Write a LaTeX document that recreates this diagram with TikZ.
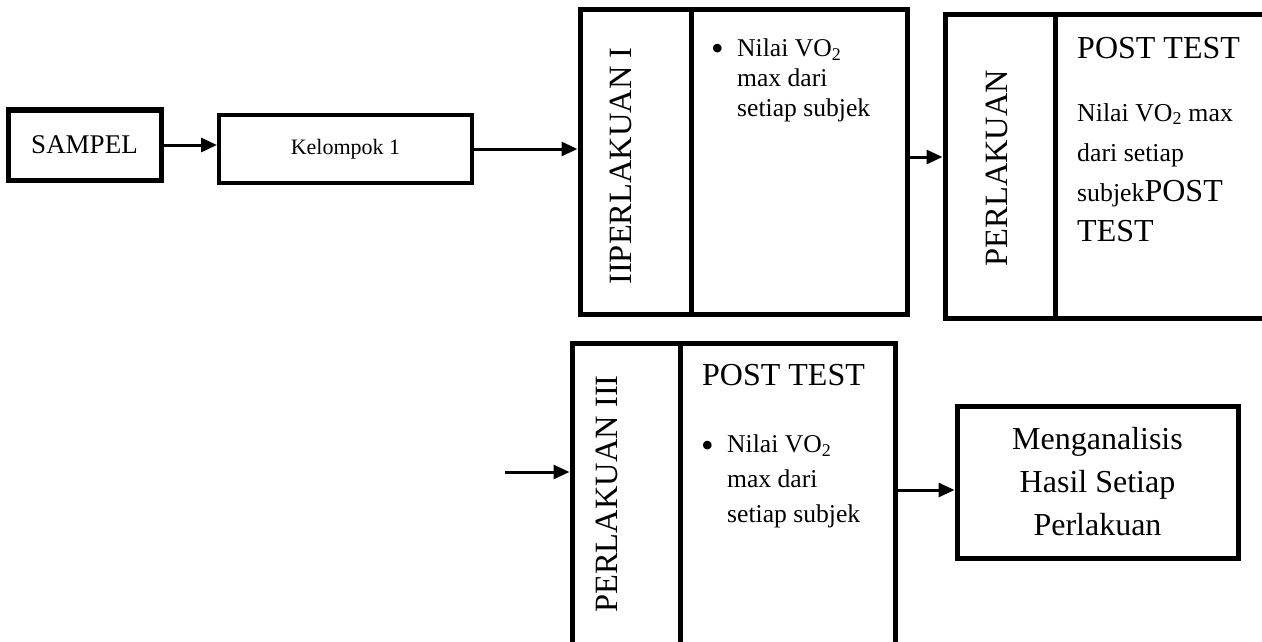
\documentclass[tikz,border=0pt]{standalone}
\usepackage{fontspec}
\setmainfont{Liberation Serif}
\usetikzlibrary{arrows.meta, positioning, calc}

\begin{document}
\begin{tikzpicture}[x=1pt, y=-1pt,
  frame/.style={draw=black, line width=5pt, inner sep=0pt},
  flow/.style={black, line width=3pt, -{Triangle[length=16pt,width=14pt]}},
  side/.style={rotate=90, inner sep=0pt, font=\fontsize{32.5}{38}\selectfont},
  judul/.style={anchor=north west, inner sep=0pt, font=\fontsize{32}{38}\selectfont},
  titik/.style={anchor=base west, inner sep=0pt, font=\fontsize{36}{36}\selectfont},
  isi/.style={anchor=north west, inner sep=0pt, align=left, font=\fontsize{25.6}{30}\selectfont}]

\useasboundingbox (0,0) rectangle (1262,642);
\clip (0,0) rectangle (1262,642);

% baris atas
\node[frame, minimum width=153pt, minimum height=70pt, font=\fontsize{27}{30}\selectfont] (sampel) at (84.5,145) {SAMPEL};
\node[frame, line width=4pt, minimum width=253pt, minimum height=68pt, font=\fontsize{22}{26}\selectfont] (kel) at (345.5,149) {Kelompok 1};

\node[frame, minimum width=327pt, minimum height=304pt] (perl1) at (743.5,162) {};
\draw[line width=5pt] (691,10) -- (691,314);
\node[side] (lab1) at (621,166) {IIPERLAKUAN I};
\node[titik] (dot1) at (711,57) {\raisebox{-4pt}{•}};
\node[isi] (isi1) at (737,39) {Nilai VO\textsubscript{2}\\max dari\\setiap subjek};

\node[frame, minimum width=330pt, minimum height=303pt] (perl2) at (1110,166.5) {};
\draw[line width=5pt] (1055,15) -- (1055,318);
\node[side] (lab2) at (997,168) {PERLAKUAN};
\node[judul] (judul2) at (1077,37) {POST TEST};
\node[isi, font=\fontsize{25.8}{40}\selectfont] (isi2) at (1077,103)
  {Nilai VO\textsubscript{2} max\\dari setiap\\subjek{\fontsize{32}{40}\selectfont POST}\\{\fontsize{32}{40}\selectfont TEST}};

% baris bawah
\node[frame, minimum width=323pt, minimum height=322pt] (perl3) at (733.5,504) {};
\draw[line width=5pt] (680,343) -- (680,665);
\node[side] (lab3) at (607,494) {PERLAKUAN III};
\node[judul] (judul3) at (702,364) {POST TEST};
\node[titik] (dot3) at (701,453) {\raisebox{-4pt}{•}};
\node[isi, font=\fontsize{25.6}{35}\selectfont] (isi3) at (727,435) {Nilai VO\textsubscript{2}\\max dari\\setiap subjek};

\node[frame, minimum width=281pt, minimum height=152pt, align=center, font=\fontsize{32}{43}\selectfont] (hasil) at (1097.5,482) {Menganalisis\\Hasil Setiap\\Perlakuan};

% panah
\coordinate (k1) at ($(perl2.west)+(0,-9.5)$);
\coordinate (masuk) at (505,472);
\coordinate (k3) at ($(hasil.west)+(0,8)$);
\draw[flow] (sampel.east) -- (sampel.east -| kel.west);
\draw[flow] (kel.east) -- (kel.east -| perl1.west);
\draw[flow] (k1 -| perl1.east) -- (k1);
\draw[flow] (masuk) -- (masuk -| perl3.west);
\draw[flow] (k3 -| perl3.east) -- (k3);
\end{tikzpicture}
\end{document}
